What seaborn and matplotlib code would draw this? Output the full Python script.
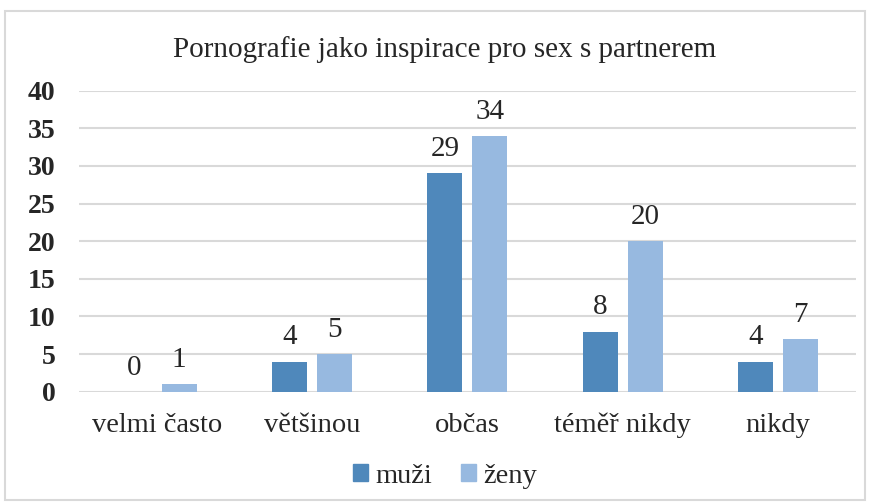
import matplotlib
matplotlib.use("Agg")
import matplotlib.pyplot as plt
import seaborn as sns
import pandas as pd
from matplotlib.patches import Rectangle

categories = ["velmi často", "většinou", "občas", "téměř nikdy", "nikdy"]
muzi = [0, 4, 29, 8, 4]
zeny = [1, 5, 34, 20, 7]
series_names = ["muži", "ženy"]
colors = ["#4F88BB", "#97B9E0"]
yticks = [0, 5, 10, 15, 20, 25, 30, 35, 40]
title = "Pornografie jako inspirace pro sex s partnerem"

df = pd.DataFrame({
    "kategorie": categories * 2,
    "pohlaví": [series_names[0]] * len(categories) + [series_names[1]] * len(categories),
    "počet": muzi + zeny,
})

sns.set_theme(style="white")
plt.rcParams["font.family"] = ["Liberation Serif", "DejaVu Serif"]

fig = plt.figure(figsize=(8.69, 5.04), dpi=100)
ax = fig.add_axes([0.0909, 0.2228, 0.894, 0.5972])

sns.barplot(data=df, x="kategorie", y="počet", hue="pohlaví",
            palette=colors, width=0.579, gap=0.222, ax=ax,
            edgecolor="none", saturation=1, legend=False)

ax.set_ylim(0, 40)
ax.set_yticks(yticks)
ax.set_yticklabels([str(t) for t in yticks], fontsize=20, fontweight="bold")
ax.set_xlim(-0.5, len(categories) - 0.5)
ax.tick_params(axis="y", length=0, pad=17)
ax.tick_params(axis="x", length=0, pad=15, labelsize=20.5)
ax.set_xlabel("")
ax.set_ylabel("")
for s in ax.spines.values():
    s.set_visible(False)
ax.yaxis.grid(True, color="#d9d9d9", linewidth=1.5)
ax.set_axisbelow(True)

for cont in ax.containers:
    ax.bar_label(cont, fmt="%d", padding=8, fontsize=21)

fig.text(0.512, 0.902, title, ha="center", va="center", fontsize=21)

handles = [Rectangle((0, 0), 1, 1, color=c) for c in colors]
fig.legend(handles, series_names, loc="center", bbox_to_anchor=(0.512, 0.055),
           ncol=2, frameon=False, fontsize=20.5, handlelength=0.55, handleheight=0.55,
           handletextpad=0.25, columnspacing=1.0)

fig.patches.append(Rectangle((5 / 869, 4 / 504), 860 / 869, 489 / 504,
                             transform=fig.transFigure, fill=False,
                             edgecolor="#d9d9d9", linewidth=1.5))

fig.savefig("out.png", dpi=100, facecolor="white")
